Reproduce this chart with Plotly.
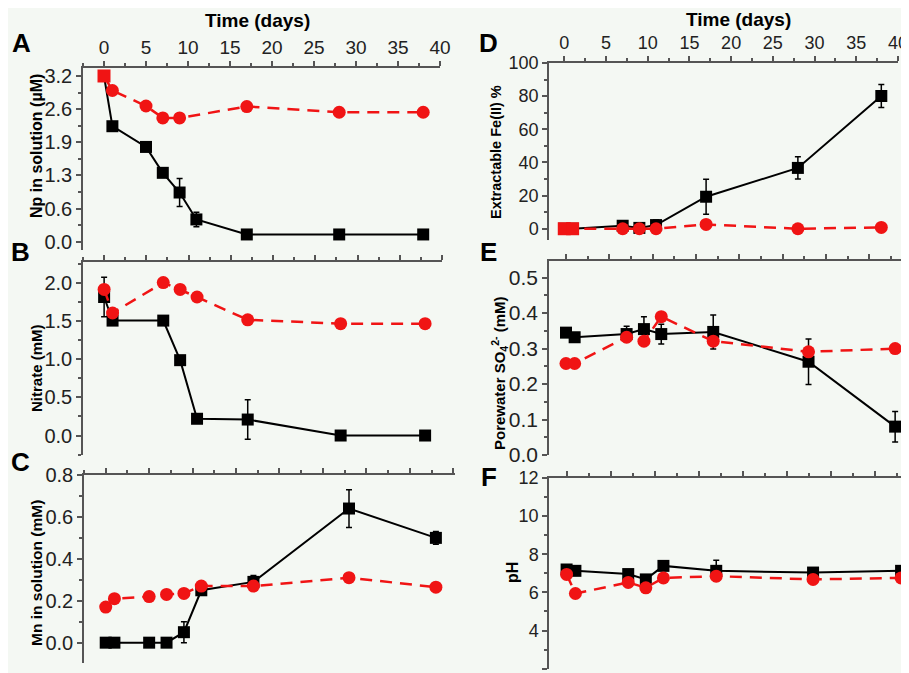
import plotly.graph_objects as go

# The page body keeps its default 8px margin, so the figure is drawn
# 8px smaller and all reference pixel positions are shifted by 8px.
REF_W, REF_H = 909, 673
OFF = 8
W, H = REF_W - OFF, REF_H - OFF

# ---------------- data ----------------
days_A_black = [0, 1, 5, 7, 9, 11, 17, 28, 38]
A_black = [3.20, 2.23, 1.83, 1.33, 0.95, 0.43, 0.14, 0.14, 0.14]
A_black_err = [0, 0, 0, 0, 0.27, 0.14, 0, 0, 0]
days_A_red = [0, 1, 5, 7, 9, 17, 28, 38]
A_red = [3.20, 2.92, 2.62, 2.39, 2.39, 2.61, 2.50, 2.50]
A_tickvals = [0, 0.64, 1.28, 1.92, 2.56, 3.2]
A_ticktext = ["0.0", "0.6", "1.3", "1.9", "2.6", "3.2"]

days_B = [0, 1, 7, 9, 11, 17, 28, 38]
B_black = [1.82, 1.51, 1.51, 0.99, 0.22, 0.21, 0.0, 0.0]
B_black_err = [0.26, 0, 0, 0, 0, 0.26, 0, 0]
B_red = [1.92, 1.61, 2.01, 1.92, 1.82, 1.52, 1.47, 1.47]

days_C = [0, 1, 5, 7, 9, 11, 17, 28, 38]
C_black = [0.0, 0.0, 0.0, 0.0, 0.05, 0.25, 0.29, 0.64, 0.50]
C_black_err = [0, 0, 0, 0, 0.05, 0, 0.03, 0.09, 0.03]
C_red = [0.17, 0.21, 0.22, 0.23, 0.235, 0.27, 0.27, 0.31, 0.265]

days_D = [0, 1, 7, 9, 11, 17, 28, 38]
D_black = [0, 0, 1.8, 0.5, 2.2, 19.3, 36.7, 80.1]
D_black_err = [2, 2, 2, 2, 3, 10.5, 6.7, 7]
D_red = [0, 0, 0, 0, 0, 2.6, 0, 0.8]

days_E = [0, 1, 7, 9, 11, 17, 28, 38]
E_black = [0.345, 0.332, 0.341, 0.355, 0.341, 0.347, 0.263, 0.080]
E_black_err = [0, 0, 0.022, 0.035, 0.028, 0.048, 0.064, 0.043]
E_red = [0.258, 0.258, 0.332, 0.321, 0.390, 0.321, 0.291, 0.300]

days_F = [0, 1, 7, 9, 11, 17, 28, 38]
F_black = [7.20, 7.13, 6.96, 6.68, 7.39, 7.13, 7.04, 7.13]
F_black_err = [0, 0.15, 0, 0, 0, 0.55, 0, 0]
F_red = [6.94, 5.94, 6.52, 6.24, 6.76, 6.85, 6.68, 6.76]

# ---------------- style ----------------
BG = "#f4f8f3"
RED = "#f01414"
AX = "#555555"
FONT = "Arial, Liberation Sans, sans-serif"

fig = go.Figure()

def px_x(p):
    return min(1.0, max(0.0, (p - OFF) / W))

def px_y(p):
    return min(1.0, max(0.0, 1 - (p - OFF) / H))

panels = [
    dict(k="", xd=(83, 440), xr=(-2.5, 40), yd=(68, 250), yr=(-0.16, 3.354), fs=20, xfs=19, lab=True,
         bx=days_A_black, by=A_black, be=A_black_err, rx=days_A_red, ry=A_red,
         rsym=["square"] + ["circle"] * 7,
         ytick=dict(tickmode="array", tickvals=A_tickvals, ticktext=A_ticktext),
         minor=dict(dtick=0.32, tick0=0)),
    dict(k="2", xd=(83, 442), xr=(-2.5, 40), yd=(262, 455), yr=(-0.256, 2.28), fs=20, xfs=19, lab=False,
         bx=days_B, by=B_black, be=B_black_err, rx=days_B, ry=B_red, rsym="circle",
         ytick=dict(dtick=0.5, tick0=0, tickformat=".1f"), minor=dict(dtick=0.25, tick0=0)),
    dict(k="3", xd=(84, 455), xr=(-2.5, 40.2), yd=(475, 663), yr=(-0.097, 0.8), fs=20, xfs=19, lab=False,
         bx=days_C, by=C_black, be=C_black_err, rx=days_C, ry=C_red, rsym="circle",
         ytick=dict(dtick=0.2, tick0=0, tickformat=".1f"), minor=dict(dtick=0.1, tick0=0)),
    dict(k="4", xd=(549, 898), xr=(-1.83, 40), yd=(63, 240), yr=(-6.8, 100), fs=18, xfs=18, lab=True,
         bx=days_D, by=D_black, be=D_black_err, rx=days_D, ry=D_red,
         rsym=["square", "square"] + ["circle"] * 6,
         ytick=dict(dtick=20, tick0=0), minor=dict(dtick=10, tick0=0)),
    dict(k="5", xd=(549, 909), xr=(-1.96, 39.6), yd=(261, 455), yr=(0, 0.547), fs=21, xfs=18, lab=False,
         bx=days_E, by=E_black, be=E_black_err, rx=days_E, ry=E_red, rsym="circle",
         ytick=dict(dtick=0.1, tick0=0, tickformat=".1f"), minor=dict(dtick=0.05, tick0=0)),
    dict(k="6", xd=(549, 909), xr=(-2.0, 38.9), yd=(478, 669), yr=(1.98, 12), fs=18, xfs=18, lab=False,
         bx=days_F, by=F_black, be=F_black_err, rx=days_F, ry=F_red, rsym="circle",
         ytick=dict(dtick=2, tick0=0), minor=dict(dtick=1, tick0=0)),
]

layout_axes = {}
for p in panels:
    k = p["k"]
    xa, ya = "x" + k, "y" + k
    fig.add_trace(go.Scatter(
        x=p["bx"], y=p["by"], xaxis=xa, yaxis=ya, mode="lines+markers",
        line=dict(color="black", width=2),
        marker=dict(symbol="square", size=12, color="black"),
        error_y=dict(type="data", array=p["be"], visible=True, color="black",
                     thickness=1.5, width=3),
        showlegend=False))
    fig.add_trace(go.Scatter(
        x=p["rx"], y=p["ry"], xaxis=xa, yaxis=ya, mode="lines+markers",
        line=dict(color=RED, width=2.5, dash="12px,8px"),
        marker=dict(symbol=p["rsym"], size=13, color=RED),
        showlegend=False))

    layout_axes["xaxis" + k] = dict(
        domain=[px_x(p["xd"][0]), px_x(p["xd"][1])], range=list(p["xr"]),
        anchor=ya, side="top", showline=True, linecolor=AX, linewidth=1.5,
        ticks="outside", ticklen=5, tickwidth=1.5, tickcolor=AX,
        dtick=5, tick0=0, showgrid=False, zeroline=False, automargin=False,
        showticklabels=p["lab"],
        tickfont=dict(family=FONT, size=p["xfs"], color="#222222"),
        minor=dict(dtick=2.5, tick0=0, ticks="outside", ticklen=3, tickcolor=AX, showgrid=False),
    )
    yax = dict(
        domain=[px_y(p["yd"][1]), px_y(p["yd"][0])], range=list(p["yr"]),
        anchor=xa, side="left", showline=True, linecolor=AX, linewidth=1.5,
        ticks="outside", ticklen=5, tickwidth=1.5, tickcolor=AX,
        showgrid=False, zeroline=False, automargin=False,
        tickfont=dict(family=FONT, size=p["fs"], color="#222222"),
        minor=dict(ticks="outside", ticklen=3, tickcolor=AX, showgrid=False, **p["minor"]),
    )
    yax.update(p["ytick"])
    layout_axes["yaxis" + k] = yax

fig.update_layout(**layout_axes)

annotations = []

def ann(text, x, y, size, bold=True, angle=0):
    annotations.append(dict(
        text=("<b>%s</b>" % text) if bold else text, x=px_x(x), y=px_y(y),
        xref="paper", yref="paper", showarrow=False, textangle=angle,
        xanchor="center", yanchor="middle",
        font=dict(family=FONT, size=size, color="black")))

# top axis titles
ann("Time (days)", 258, 21, 19)
ann("Time (days)", 738, 20, 19)
# panel letters
ann("A", 21, 43, 26)
ann("B", 20, 252, 26)
ann("C", 20, 462, 26)
ann("D", 488, 43, 26)
ann("E", 488, 252, 26)
ann("F", 489, 477, 26)
# y-axis titles
ann("Np in solution (µM)", 36, 146, 16, angle=-90)
ann("Nitrate (mM)", 36, 368, 15, angle=-90)
ann("Mn in solution (mM)", 36, 573, 15.5, angle=-90)
ann("Extractable Fe(II) %", 496, 152, 14.5, angle=-90)
ann("Porewater SO<sub>4</sub><sup>2-</sup> (mM)", 499, 373, 15, angle=-90)
ann("pH", 512, 573, 16, angle=-90)

fig.update_layout(
    width=W, height=H, margin=dict(l=0, r=0, t=0, b=0),
    paper_bgcolor=BG, plot_bgcolor=BG,
    annotations=annotations, showlegend=False,
)

fig.write_html("out.html")
